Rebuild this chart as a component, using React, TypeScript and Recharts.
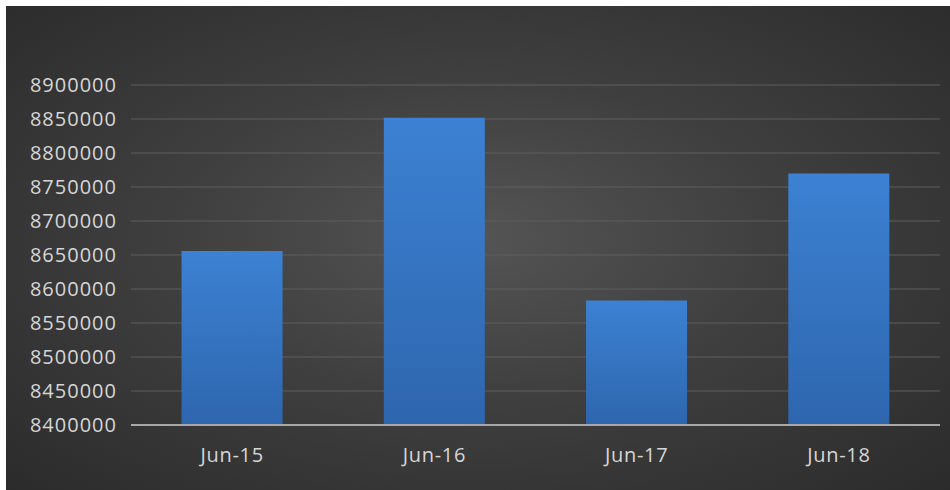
import * as React from 'react'
import { BarChart, Bar, XAxis, YAxis, CartesianGrid } from 'recharts'

const periods = ['Jun-15', 'Jun-16', 'Jun-17', 'Jun-18']
const amounts = [8656000, 8852000, 8583000, 8770000]
const yTicks = [8400000, 8450000, 8500000, 8550000, 8600000, 8650000, 8700000, 8750000, 8800000, 8850000, 8900000]

const data = periods.map((period, i) => ({ period, amount: amounts[i] }))

const baseText = { fill: '#d6d6d6', fontSize: 20, fontFamily: '"Open Sans", sans-serif' }

export default function App() {
  return (
    <div
      style={{
        position: 'absolute',
        left: 6,
        top: 6,
        width: 944,
        height: 484,
        background: 'radial-gradient(ellipse at 50% 48%, #545454 0%, #3f3f3f 45%, #2b2b2b 100%)',
      }}
    >
      <BarChart
        width={944}
        height={484}
        data={data}
        margin={{ top: 79, right: 10, bottom: 0, left: 0 }}
        barCategoryGap="25%"
      >
        <defs>
          <linearGradient id="barFill" x1="0" y1="0" x2="0" y2="1">
            <stop offset="0%" stopColor="#3c81d3" />
            <stop offset="100%" stopColor="#2e66ae" />
          </linearGradient>
        </defs>
        <CartesianGrid vertical={false} stroke="#5e5e5e" strokeWidth={1} />
        <XAxis
          dataKey="period"
          height={65}
          tickLine={false}
          tickSize={0}
          tickMargin={23}
          axisLine={{ stroke: '#a8a8a8', strokeWidth: 2 }}
          tick={{ ...baseText, letterSpacing: 0.7 }}
        />
        <YAxis
          width={125}
          domain={[8400000, 8900000]}
          ticks={yTicks}
          allowDataOverflow
          axisLine={false}
          tickLine={false}
          tickSize={0}
          tickMargin={14}
          tick={{ ...baseText, letterSpacing: 1 }}
        />
        <Bar dataKey="amount" fill="url(#barFill)" isAnimationActive={false} />
      </BarChart>
    </div>
  )
}
